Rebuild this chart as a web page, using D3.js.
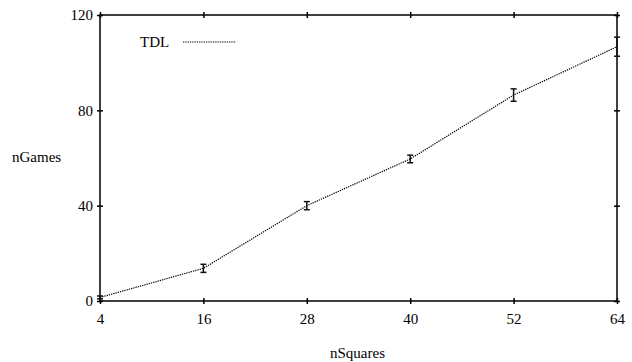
<!DOCTYPE html>
<html>
<head>
<meta charset="utf-8">
<script src="https://cdn.jsdelivr.net/npm/d3@7"></script>
<style>
  body { margin: 0; background: #fff; }
  svg text { font-family: 'Liberation Serif', 'Times New Roman', Times, serif !important; fill: #000; }
</style>
</head>
<body>
<div id="chart"></div>
<script>
// data
var nSquares = [4, 16, 28, 40, 52, 64];
var nGames = [1.5, 13.7, 40, 59.6, 86.4, 106.7];
var errs = [0.6, 1.7, 1.7, 1.6, 2.6, 4];
var xTicks = [4, 16, 28, 40, 52, 64];
var yTicks = [0, 40, 80, 120];

var width = 632, height = 362;
var margin = {top: 15, right: 15, bottom: 61, left: 100};
var w = width - margin.left - margin.right;
var h = height - margin.top - margin.bottom;
var fontSize = 15;

var svg = d3.select('#chart').append('svg')
  .attr('width', width)
  .attr('height', height)
  .attr('font-family', 'Liberation Serif')
  .attr('font-size', fontSize);

var g = svg.append('g')
  .attr('transform', 'translate(' + margin.left + ',' + margin.top + ')');

// SCALES
var xScale = d3.scaleLinear().domain([4, 64]).range([0, w]);
var yScale = d3.scaleLinear().domain([0, 120]).range([h, 0]);

// AXES (ticks cross the frame, mirrored on top / right)
function styleAxis(sel) {
  sel.attr('font-family', null).attr('font-size', null);
  sel.select('.domain').remove();
  sel.selectAll('.tick line').attr('stroke', '#000').attr('stroke-width', 1.5);
}

g.append('g')
  .attr('transform', 'translate(0,' + h + ')')
  .call(d3.axisBottom(xScale).tickValues(xTicks).tickSizeInner(3).tickSizeOuter(0).tickPadding(9))
  .call(styleAxis)
  .call(function (s) { s.selectAll('.tick line').attr('y1', -3); });

g.append('g')
  .call(d3.axisTop(xScale).tickValues(xTicks).tickSizeInner(3).tickSizeOuter(0).tickFormat(''))
  .call(styleAxis)
  .call(function (s) { s.selectAll('.tick line').attr('y1', 3); });

g.append('g')
  .call(d3.axisLeft(yScale).tickValues(yTicks).tickSizeInner(3).tickSizeOuter(0).tickPadding(4))
  .call(styleAxis)
  .call(function (s) { s.selectAll('.tick line').attr('x1', 3); });

g.append('g')
  .attr('transform', 'translate(' + w + ',0)')
  .call(d3.axisRight(yScale).tickValues(yTicks).tickSizeInner(3).tickSizeOuter(0).tickFormat(''))
  .call(styleAxis)
  .call(function (s) { s.selectAll('.tick line').attr('x1', -3); });

// FRAME
g.append('rect')
  .attr('width', w).attr('height', h)
  .attr('fill', 'none')
  .attr('stroke', '#000')
  .attr('stroke-width', 1.5);

// AXIS TITLES
svg.append('text')
  .attr('x', margin.left + w / 2 - 1)
  .attr('y', 358)
  .attr('text-anchor', 'middle')
  .text('nSquares');

svg.append('text')
  .attr('x', 12)
  .attr('y', 162)
  .text('nGames');

// LINE
var rows = nSquares.map(function (d, i) {
  return {x: d, y: nGames[i], e: errs[i]};
});

var line = d3.line()
  .x(function (d) { return xScale(d.x); })
  .y(function (d) { return yScale(d.y); });

g.append('path')
  .datum(rows)
  .attr('d', line)
  .attr('fill', 'none')
  .attr('stroke', '#000')
  .attr('stroke-width', 1.2)
  .attr('stroke-dasharray', '1.3,1');

// ERROR BARS
var bars = g.selectAll('.err').data(rows)
  .enter().append('g')
  .attr('class', 'err')
  .attr('stroke', '#111')
  .attr('stroke-width', 1.5);

bars.append('line')
  .attr('x1', function (d) { return xScale(d.x); })
  .attr('x2', function (d) { return xScale(d.x); })
  .attr('y1', function (d) { return yScale(d.y - d.e); })
  .attr('y2', function (d) { return yScale(d.y + d.e); });

[-1, 1].forEach(function (s) {
  bars.append('line')
    .attr('x1', function (d) { return xScale(d.x) - 3; })
    .attr('x2', function (d) { return xScale(d.x) + 3; })
    .attr('y1', function (d) { return yScale(d.y + s * d.e); })
    .attr('y2', function (d) { return yScale(d.y + s * d.e); });
});

// LEGEND
var legend = svg.append('g').attr('transform', 'translate(140,42)');
legend.append('text').attr('dy', '0.35em').text('TDL');
legend.append('line')
  .attr('x1', 43).attr('x2', 96)
  .attr('stroke', '#000')
  .attr('stroke-width', 1.2)
  .attr('stroke-dasharray', '1.3,1');
</script>
</body>
</html>
